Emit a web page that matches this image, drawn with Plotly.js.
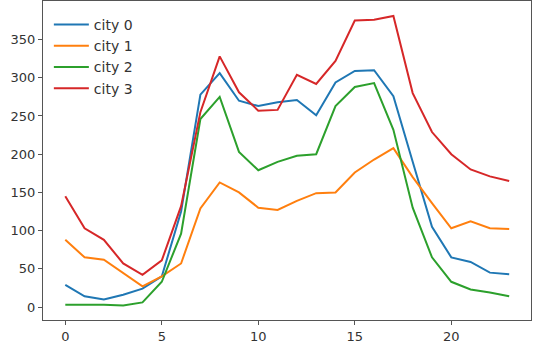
<!DOCTYPE html>
<html>
<head>
<meta charset="utf-8">
<script src="https://cdn.plot.ly/plotly-3.0.1.min.js"></script>
<style>html,body{margin:0;padding:0;background:#fff;}#chart{width:534px;height:352px;}</style>
</head>
<body>
<div id="chart"></div>
<script>
const hours = [0,1,2,3,4,5,6,7,8,9,10,11,12,13,14,15,16,17,18,19,20,21,22,23];
const seriesNames = ["city 0", "city 1", "city 2", "city 3"];
const city0 = [29,14,10,16,24,40,125,278,306,270,263,268,271,251,294,309,310,276,190,105,65,59,45,43];
const city1 = [88,65,62,44,27,40,57,129,163,150,130,127,139,149,150,176,193,208,170,136,103,112,103,102];
const city2 = [3,3,3,2,6,33,96,246,275,203,179,190,198,200,263,288,293,232,130,65,33,23,19,14];
const city3 = [145,103,88,57,42,61,132,255,328,281,257,258,304,292,322,375,376,381,280,229,200,180,171,165];
const xTicks = [0,5,10,15,20];
const yTicks = [0,50,100,150,200,250,300,350];

const colors = ["#1f77b4", "#ff7f0e", "#2ca02c", "#d62728"];
const allSeries = [city0, city1, city2, city3];

const traces = allSeries.map((vals, i) => ({
  x: hours,
  y: vals,
  type: "scatter",
  mode: "lines",
  name: seriesNames[i],
  legendgroup: "g" + i,
  line: {color: colors[i], width: 2}
}));

const axisCommon = {
  showline: true, mirror: true, linecolor: "#555", linewidth: 1,
  ticks: "outside", ticklen: 4, tickcolor: "#555", tickwidth: 1,
  showgrid: false, zeroline: false,
  tickfont: {family: "DejaVu Sans", size: 13, color: "#333"}
};

const layout = {
  width: 534, height: 352,
  margin: {l: 43, r: 3, t: 1, b: 32},
  paper_bgcolor: "#fff", plot_bgcolor: "#fff",
  showlegend: true,
  legend: {
    x: 0.012, y: 0.975, xanchor: "left", yanchor: "top",
    bgcolor: "rgba(255,255,255,0.8)", borderwidth: 0,
    font: {family: "DejaVu Sans", size: 14, color: "#333"},
    tracegroupgap: 0,
    itemwidth: 35
  },
  xaxis: Object.assign({}, axisCommon, {range: [-1.155, 24.13], tickvals: xTicks, ticktext: xTicks.map(String)}),
  yaxis: Object.assign({}, axisCommon, {range: [-17, 400.5], tickvals: yTicks, ticktext: yTicks.map(String)})
};

Plotly.newPlot("chart", traces, layout, {displayModeBar: false, staticPlot: true});
</script>
</body>
</html>
